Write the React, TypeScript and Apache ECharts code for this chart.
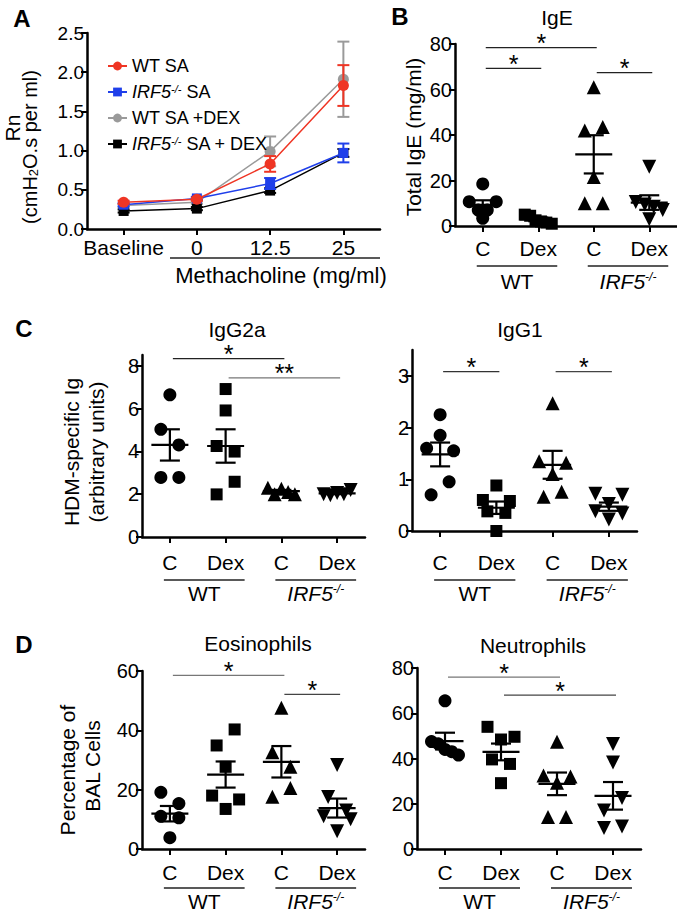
import React, { useEffect, useRef } from 'react';
import * as echarts from 'echarts';

const FONT = "'Liberation Sans', Arial, Helvetica, sans-serif";

/* ---------- Panel A: airway resistance ---------- */
const doseCategories = ['Baseline', '0', '12.5', '25'];
const rnTicks = [0, 0.5, 1, 1.5, 2, 2.5];
const seriesNames = ['WT SA', 'IRF5-/- SA', 'WT SA +DEX', 'IRF5-/- SA + DEX'];
const wtSA = [0.34, 0.38, 0.83, 1.83];
const wtSAErr = [0.02, 0.02, 0.1, 0.26];
const koSA = [0.31, 0.39, 0.58, 0.97];
const koSAErr = [0.02, 0.02, 0.07, 0.12];
const wtSADex = [0.3, 0.34, 0.99, 1.91];
const wtSADexErr = [0.02, 0.02, 0.19, 0.48];
const koSADex = [0.23, 0.26, 0.49, 0.97];
const koSADexErr = [0.02, 0.02, 0.03, 0.05];

/* ---------- dot plots ---------- */
const groupCategories = ['C', 'Dex', 'C', 'Dex'];

// B: total IgE
const igeTicks = [0, 20, 40, 60, 80];
const igeWtC = [18.5, 10.7, 7.0, 7.0, 10.7, 3.4];
const igeWtDex = [5.0, 4.5, 2.5, 2.0, 1.5, 1.0];
const igeKoC = [61, 42, 43.5, 21.5, 10, 10];
const igeKoDex = [26, 10.5, 9.5, 8.5, 7, 3];
const igeMean = [9.3, 2.9, 31.5, 10.3];
const igeSem = [2.0, 0.8, 8.4, 3.2];
const igeSig = [[0, 78.4, 2], [0, 69.3, 1], [2, 67.4, 3]];
const igeSigLabels = ['*', '*', '*'];

// C: IgG2a
const igg2aTicks = [0, 2, 4, 6, 8];
const igg2aWtC = [6.64, 5.03, 4.3, 2.78, 2.78];
const igg2aWtDex = [6.91, 5.91, 4.25, 3.99, 1.99, 2.58];
const igg2aKoC = [2.3, 2.0, 2.25, 2.1, 2.0];
const igg2aKoDex = [2.0, 1.95, 2.05, 2.0, 2.2];
const igg2aMean = [4.3, 4.25, 2.14, 2.04];
const igg2aSem = [0.73, 0.78, 0.06, 0.04];
const igg2aSig = [[0, 8.33, 2], [1, 7.43, 3]];
const igg2aSigLabels = ['*', '**'];

// C: IgG1
const igg1Ticks = [0, 1, 2, 3];
const igg1WtC = [2.25, 1.6, 1.85, 1.55, 0.7, 0.95];
const igg1WtDex = [0.6, 0.88, 0.58, 0.38, 0.35, 0.0];
const igg1KoC = [2.47, 1.35, 1.1, 1.32, 0.66, 0.76];
const igg1KoDex = [0.72, 0.52, 0.7, 0.38, 0.22, 0.34];
const igg1Mean = [1.48, 0.45, 1.28, 0.47];
const igg1Sem = [0.23, 0.12, 0.27, 0.08];
const igg1Sig = [[0, 3.08, 1], [2, 3.08, 3]];
const igg1SigLabels = ['*', '*'];

// D: eosinophils
const eosTicks = [0, 20, 40, 60];
const eosWtC = [19.1, 15.3, 11.0, 10.5, 3.8];
const eosWtDex = [34.9, 40.3, 27.7, 18.0, 13.5, 16.7];
const eosKoC = [47.6, 32.6, 27.7, 17.6, 20.6];
const eosKoDex = [28.3, 17.5, 13.0, 11.0, 6.0, 10.0];
const eosMean = [11.9, 25.1, 29.4, 13.8];
const eosSem = [2.6, 4.4, 5.3, 3.2];
const eosSig = [[0, 58.5, 2], [2, 52.1, 3]];
const eosSigLabels = ['*', '*'];

// D: neutrophils
const neuTicks = [0, 20, 40, 60, 80];
const neuWtC = [65.5, 47.5, 46.5, 44, 43, 41.5];
const neuWtDex = [54, 48.4, 49.6, 39.6, 37.6, 29.1];
const neuKoC = [47.4, 32.5, 29.3, 32, 14.1, 14.1];
const neuKoDex = [46.4, 38.2, 17, 22.5, 9.3, 10];
const neuMean = [47.7, 42.9, 28.8, 23.5];
const neuSem = [3.7, 3.7, 5.0, 6.1];
const neuSig = [[0, 76, 2], [1, 68, 3]];
const neuSigLabels = ['*', '*'];

/* ---------- layout & style ---------- */
const RED = '#ef3524';
const BLUE = '#1f3fea';
const GRAY = '#9a9a9a';
const BLACK = '#000000';

const BOX = {
  A: { left: 87, top: 33, width: 293, height: 196 },
  B: { left: 455, top: 44, width: 222, height: 182 },
  G2a: { left: 142, top: 355, width: 223, height: 182 },
  G1: { left: 412, top: 350, width: 225, height: 181 },
  Eos: { left: 142, top: 671, width: 223, height: 178 },
  Neu: { left: 417, top: 668, width: 224, height: 181 },
};

const SYMBOLS = ['circle', 'rect', 'triangle', 'triangle'];
const SYMBOL_SIZES = [13, 12, 14, 14];
const SYMBOL_ROTATE = [0, 0, 0, 180];
const ROW_GAP = 16.5;

const dotPanels = [
  { gi: 1, box: BOX.B, max: 80, ticks: igeTicks, groups: [igeWtC, igeWtDex, igeKoC, igeKoDex], mean: igeMean, sem: igeSem, sig: igeSig, sigLabels: igeSigLabels, sigColors: ['#222', '#222', '#222'], labelMargin: 12, lineY: 266, groupY: 281 },
  { gi: 2, box: BOX.G2a, max: 8.5, ticks: igg2aTicks, groups: [igg2aWtC, igg2aWtDex, igg2aKoC, igg2aKoDex], mean: igg2aMean, sem: igg2aSem, sig: igg2aSig, sigLabels: igg2aSigLabels, sigColors: ['#222', '#777'], labelMargin: 15, lineY: 580, groupY: 593 },
  { gi: 3, box: BOX.G1, max: 3.5, ticks: igg1Ticks, groups: [igg1WtC, igg1WtDex, igg1KoC, igg1KoDex], mean: igg1Mean, sem: igg1Sem, sig: igg1Sig, sigLabels: igg1SigLabels, sigColors: ['#333', '#444'], labelMargin: 21, lineY: 580, groupY: 593 },
  { gi: 4, box: BOX.Eos, max: 60, ticks: eosTicks, groups: [eosWtC, eosWtDex, eosKoC, eosKoDex], mean: eosMean, sem: eosSem, sig: eosSig, sigLabels: eosSigLabels, sigColors: ['#777', '#444'], labelMargin: 13, lineY: 888, groupY: 901 },
  { gi: 5, box: BOX.Neu, max: 80, ticks: neuTicks, groups: [neuWtC, neuWtDex, neuKoC, neuKoDex], mean: neuMean, sem: neuSem, sig: neuSig, sigLabels: neuSigLabels, sigColors: ['#777', '#444'], labelMargin: 13, lineY: 888, groupY: 901 },
];

// Prism-like row layout: points close in value share a row, centred on the category
function swarm(values: number[], pxPerUnit: number): number[] {
  const order = values.map((_, i) => i).sort((a, b) => values[b] - values[a]);
  const offsets = values.map(() => 0);
  let row: number[] = [];
  const flush = () => {
    const members = row.slice().sort((a, b) => a - b);
    const m = members.length;
    const sp = m > 1 ? Math.min(18, 27 / (m - 1)) : 0;
    members.forEach((idx, k) => {
      offsets[idx] = (k - (m - 1) / 2) * sp;
    });
  };
  order.forEach((idx) => {
    if (row.length && (values[row[0]] - values[idx]) * pxPerUnit > ROW_GAP) {
      flush();
      row = [];
    }
    row.push(idx);
  });
  if (row.length) flush();
  return offsets;
}

function xAx(gi: number, cats: string[], margin: number, fontSize: number) {
  return {
    type: 'category', gridIndex: gi, data: cats, boundaryGap: true,
    axisLine: { show: true, onZero: false, lineStyle: { color: '#000', width: 2.5 } },
    axisTick: { show: true, alignWithLabel: true, length: 6, lineStyle: { color: '#000', width: 2 } },
    axisLabel: { show: true, interval: 0, margin, fontSize, color: '#000', fontFamily: FONT },
    splitLine: { show: false },
  };
}

function yAx(gi: number, max: number, ticks: number[], fontSize: number, fmt?: (v: number) => string) {
  return {
    type: 'value', gridIndex: gi, min: 0, max,
    axisLine: { show: true, onZero: false, lineStyle: { color: '#000', width: 2.5 } },
    axisTick: { show: true, length: 6, customValues: ticks, lineStyle: { color: '#000', width: 2 } },
    axisLabel: { show: true, customValues: ticks, margin: 3, fontSize, color: '#000', fontFamily: FONT, formatter: fmt ? (v: number) => fmt(v) : (v: number) => String(v) },
    splitLine: { show: false },
  };
}

function errSeries(values: number[], errs: number[], color: string, z: number) {
  return {
    type: 'custom', xAxisIndex: 0, yAxisIndex: 0, z, silent: true,
    data: values.map((v, i) => [i, v, errs[i]]),
    renderItem: (_p: any, api: any) => {
      const i = api.value(0), v = api.value(1), e = api.value(2);
      const t = api.coord([i, v + e]);
      const b = api.coord([i, v - e]);
      const st = { stroke: color, lineWidth: 2 };
      return {
        type: 'group', children: [
          { type: 'line', shape: { x1: t[0], y1: t[1], x2: b[0], y2: b[1] }, style: st },
          { type: 'line', shape: { x1: t[0] - 6, y1: t[1], x2: t[0] + 6, y2: t[1] }, style: st },
          { type: 'line', shape: { x1: b[0] - 6, y1: b[1], x2: b[0] + 6, y2: b[1] }, style: st },
        ],
      };
    },
  };
}

function meanSeries(gi: number, means: number[], sems: number[]) {
  return {
    type: 'custom', xAxisIndex: gi, yAxisIndex: gi, z: 6, silent: true,
    data: means.map((m, i) => [i, m, sems[i]]),
    renderItem: (_p: any, api: any) => {
      const i = api.value(0), m = api.value(1), s = api.value(2);
      const c = api.coord([i, m]);
      const t = api.coord([i, m + s]);
      const b = api.coord([i, m - s]);
      const st = { stroke: '#000', lineWidth: 2.2 };
      return {
        type: 'group', children: [
          { type: 'line', shape: { x1: c[0] - 18.5, y1: c[1], x2: c[0] + 18.5, y2: c[1] }, style: st },
          { type: 'line', shape: { x1: t[0], y1: t[1], x2: b[0], y2: b[1] }, style: st },
          { type: 'line', shape: { x1: t[0] - 10, y1: t[1], x2: t[0] + 10, y2: t[1] }, style: st },
          { type: 'line', shape: { x1: b[0] - 10, y1: b[1], x2: b[0] + 10, y2: b[1] }, style: st },
        ],
      };
    },
  };
}

function sigSeries(gi: number, sig: number[][], labels: string[], colors: string[]) {
  return {
    type: 'custom', xAxisIndex: gi, yAxisIndex: gi, z: 7, silent: true, clip: false,
    data: sig,
    renderItem: (p: any, api: any) => {
      const a = api.coord([api.value(0), api.value(1)]);
      const b = api.coord([api.value(2), api.value(1)]);
      return {
        type: 'group', children: [
          { type: 'line', shape: { x1: a[0] + 3, y1: a[1], x2: b[0] + 3, y2: b[1] }, style: { stroke: colors[p.dataIndex], lineWidth: 1.2 } },
          { type: 'text', style: { text: labels[p.dataIndex], x: (a[0] + b[0]) / 2 + 3, y: a[1] - 4.5, textAlign: 'center', textVerticalAlign: 'middle', fontSize: 25, fontFamily: FONT, fill: '#000' } },
        ],
      };
    },
  };
}

function txt(x: number, y: number, text: string, fontSize: number, extra: any = {}, rotation = 0) {
  return {
    type: 'text', x, y, rotation, silent: true,
    style: { text, x: 0, y: 0, textAlign: 'center', textVerticalAlign: 'middle', fontSize, fontFamily: FONT, fill: '#000', ...extra },
  };
}

const koRich = {
  i: { fontStyle: 'italic', fontSize: 21, fontFamily: FONT, lineHeight: 21 },
  s: { fontStyle: 'italic', fontSize: 12, fontFamily: FONT, lineHeight: 12, verticalAlign: 'top', textVerticalAlign: 'top' },
};

function buildOption() {
  const grids = [BOX.A, BOX.B, BOX.G2a, BOX.G1, BOX.Eos, BOX.Neu].map((b) => ({ ...b, containLabel: false }));
  const xAxis: any[] = [xAx(0, doseCategories, 8, 21)];
  const yAxis: any[] = [yAx(0, 2.5, rnTicks, 19, (v) => v.toFixed(1))];
  const series: any[] = [];
  const graphic: any[] = [];

  // Panel A
  const aDefs = [
    { name: seriesNames[2], data: wtSADex, err: wtSADexErr, color: GRAY, symbol: 'circle', z: 2 },
    { name: seriesNames[3], data: koSADex, err: koSADexErr, color: BLACK, symbol: 'rect', z: 2 },
    { name: seriesNames[1], data: koSA, err: koSAErr, color: BLUE, symbol: 'rect', z: 3 },
    { name: seriesNames[0], data: wtSA, err: wtSAErr, color: RED, symbol: 'circle', z: 4 },
  ];
  aDefs.forEach((d) => {
    series.push(errSeries(d.data, d.err, d.color, d.z));
    series.push({
      name: d.name, type: 'line', xAxisIndex: 0, yAxisIndex: 0, data: d.data, z: d.z, silent: true,
      symbol: d.symbol, symbolSize: d.symbol === 'circle' ? 11 : 10, showSymbol: true,
      itemStyle: { color: d.color, opacity: 1 }, lineStyle: { color: d.color, width: 1.5 },
    });
  });

  // Dot-plot panels
  dotPanels.forEach((p) => {
    xAxis.push(xAx(p.gi, groupCategories, p.labelMargin, 21));
    yAxis.push(yAx(p.gi, p.max, p.ticks, 20));
    const ppu = p.box.height / p.max;
    p.groups.forEach((vals, gIdx) => {
      const offs = swarm(vals, ppu);
      series.push({
        type: 'scatter', xAxisIndex: p.gi, yAxisIndex: p.gi, z: 5, silent: true, clip: false,
        symbol: SYMBOLS[gIdx], symbolSize: SYMBOL_SIZES[gIdx], symbolRotate: SYMBOL_ROTATE[gIdx],
        itemStyle: { color: '#000', opacity: 1 },
        data: vals.map((v, i) => ({ value: [gIdx, v], symbolOffset: [offs[i], 0] })),
      });
    });
    series.push(meanSeries(p.gi, p.mean, p.sem));
    series.push(sigSeries(p.gi, p.sig, p.sigLabels, p.sigColors));

    // genotype group lines and labels
    const band = p.box.width / 4;
    const cx = (i: number) => p.box.left + band * (i + 0.5);
    [0, 2].forEach((start, k) => {
      const x1 = cx(start) - 6;
      const x2 = cx(start + 1) + 19;
      graphic.push({ type: 'line', silent: true, shape: { x1, y1: p.lineY, x2, y2: p.lineY }, style: { stroke: '#222', lineWidth: 1.3 } });
      if (k === 0) graphic.push(txt((x1 + x2) / 2, p.groupY, 'WT', 21));
      else graphic.push(txt((x1 + x2) / 2, p.groupY, '{i|IRF5}{s|-/-}', 21, { rich: koRich }));
    });
  });

  // Panel A extras
  graphic.push({ type: 'line', silent: true, shape: { x1: 170, y1: 258, x2: 380, y2: 258 }, style: { stroke: '#222', lineWidth: 1.3 } });
  graphic.push(txt(281, 275, 'Methacholine (mg/ml)', 22));
  graphic.push(txt(12, 128, 'Rn', 21, {}, Math.PI / 2));
  graphic.push(txt(30, 147, '(cmH{b|2}O.s per ml)', 20, { rich: { b: { fontSize: 13, lineHeight: 13, fontFamily: FONT, verticalAlign: 'bottom', textVerticalAlign: 'bottom' } } }, Math.PI / 2));

  // panel letters
  const bold = { fontWeight: 'bold' };
  graphic.push(txt(22, 18, 'A', 24, bold));
  graphic.push(txt(400, 16, 'B', 24, bold));
  graphic.push(txt(24, 328, 'C', 24, bold));
  graphic.push(txt(24, 644, 'D', 24, bold));

  // titles
  graphic.push(txt(557, 17, 'IgE', 21));
  graphic.push(txt(237, 329, 'IgG2a', 21));
  graphic.push(txt(520, 329, 'IgG1', 21));
  graphic.push(txt(258, 643, 'Eosinophils', 21));
  graphic.push(txt(533, 645, 'Neutrophils', 21));

  // y-axis names
  graphic.push(txt(413, 137, 'Total IgE (mg/ml)', 21, {}, Math.PI / 2));
  graphic.push(txt(71, 452, 'HDM-specific Ig', 21, {}, Math.PI / 2));
  graphic.push(txt(96, 452, '(arbitrary units)', 21, {}, Math.PI / 2));
  graphic.push(txt(67, 770, 'Percentage of', 21, {}, Math.PI / 2));
  graphic.push(txt(92, 766, 'BAL Cells', 21, {}, Math.PI / 2));

  return {
    animation: false,
    backgroundColor: '#fff',
    textStyle: { fontFamily: FONT },
    grid: grids,
    xAxis,
    yAxis,
    legend: {
      show: true, orient: 'vertical', left: 102, top: 52, itemWidth: 19, itemHeight: 11, itemGap: 8,
      selectedMode: false, data: seriesNames,
      formatter: (n: string) => n.replace('IRF5-/-', '{i|IRF5}{s|-/-}'),
      textStyle: {
        fontSize: 18, color: '#000', fontFamily: FONT, lineHeight: 18,
        rich: {
          i: { fontStyle: 'italic', fontSize: 18, lineHeight: 18, fontFamily: FONT },
          s: { fontStyle: 'italic', fontSize: 11, lineHeight: 11, fontFamily: FONT, verticalAlign: 'top' },
        },
      },
    },
    series,
    graphic,
  };
}

export default function App() {
  const ref = useRef<HTMLDivElement>(null);
  useEffect(() => {
    const chart = echarts.init(ref.current as HTMLDivElement, undefined, { renderer: 'svg' });
    chart.setOption(buildOption() as any);
    return () => chart.dispose();
  }, []);
  return (
    <div
      ref={ref}
      style={{ position: 'absolute', left: 0, top: 0, width: 677, height: 913, background: '#fff' }}
    />
  );
}
